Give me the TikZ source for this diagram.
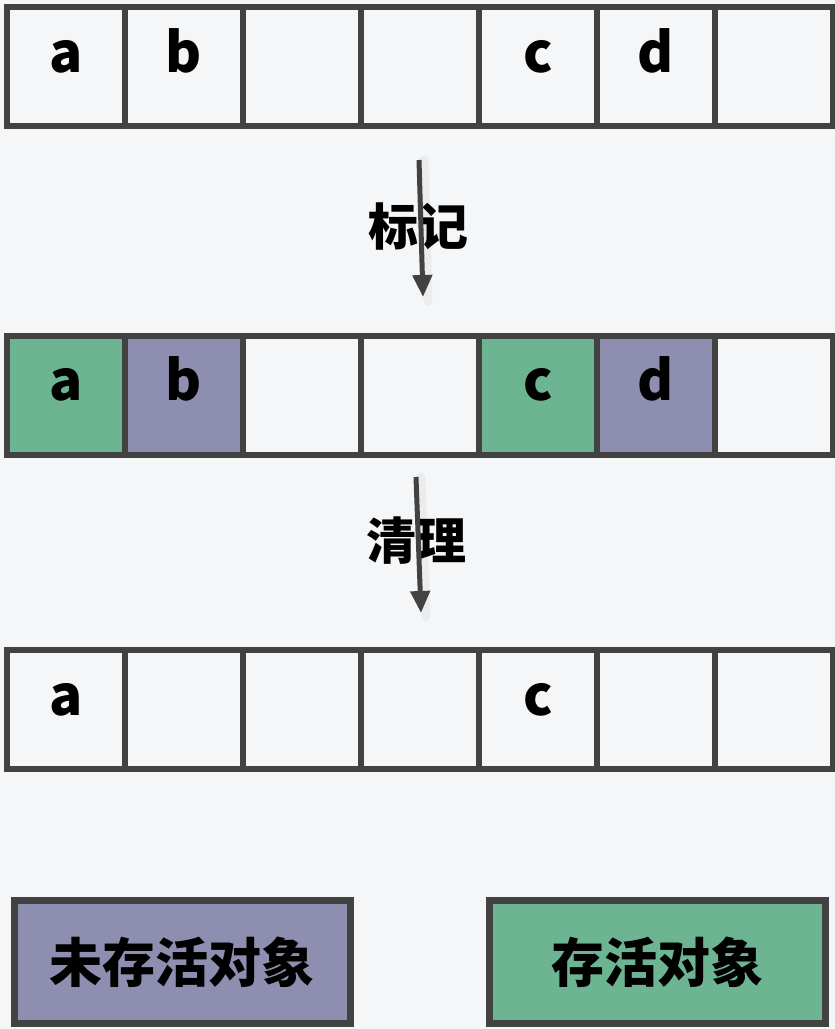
\documentclass[tikz,border=0pt]{standalone}
\usepackage{fontspec}
\setmainfont{Noto Sans CJK SC}
\usepackage{tikz}
\usetikzlibrary{calc,arrows.meta,positioning}

\definecolor{bgcol}{HTML}{F4F6F8}
\definecolor{linecol}{HTML}{424242}
\definecolor{live}{HTML}{6DB592}
\definecolor{dead}{HTML}{8E8FB0}

\begin{document}
\begin{tikzpicture}[x=1pt,y=-1pt,
  cell/.style={draw=linecol,line width=6pt,fill=bgcol,inner sep=0pt,
    minimum width=118pt,minimum height=119pt},
  letter/.style={anchor=base,inner sep=0pt,font=\fontsize{55}{60}\selectfont\bfseries},
  stage/.style={inner sep=0pt,font=\fontsize{50}{56}\selectfont\bfseries},
  keybox/.style={draw=linecol,line width=7pt,inner sep=0pt,
    minimum width=336pt,minimum height=123pt,
    font=\fontsize{53}{58}\selectfont\bfseries},
  flow/.style={draw=linecol,line width=5pt,
    -{Triangle[width=19pt,length=22pt]}},
  flowshadow/.style={draw=black,opacity=0.04,line width=9pt,line cap=round}]
  \useasboundingbox[fill=bgcol](0,0) rectangle (835,1029);
  % heap before marking
  \foreach \i in {1,...,7}
    \node[cell](h\i) at ({118*\i-52},66.5){};
  % heap after marking
  \foreach \i/\f in {1/live,2/dead,3/bgcol,4/bgcol,5/live,6/dead,7/bgcol}
    \node[cell,fill=\f](m\i) at ({118*\i-52},395){};
  % heap after sweeping
  \foreach \i in {1,...,7}
    \node[cell](s\i) at ({118*\i-52},709.5){};
  \foreach \n/\t in {h1/a,h2/b,h5/c,h6/d,m1/a,m2/b,m5/c,m6/d,s1/a,s5/c}
    \node[letter](l\n) at ([yshift=-68pt]\n.north){\t};
  % steps
  \node[stage](mark) at (418,226){标记};
  \node[stage](sweep) at (416,541){清理};
  \coordinate(mark1) at (419,160);
  \coordinate(mark2) at (423,297);
  \coordinate(sweep1) at (416,477);
  \coordinate(sweep2) at (421,613);
  \draw[flowshadow]([xshift=5pt]mark1)--([xshift=5pt,yshift=-4pt]mark2);
  \draw[flowshadow]([xshift=5pt]sweep1)--([xshift=5pt,yshift=-4pt]sweep2);
  \draw[flow](mark1)--(mark2);
  \draw[flow](sweep1)--(sweep2);
  % legend
  \node[keybox,fill=dead](kdead) at (182,962){未存活对象};
  \node[keybox,fill=live](klive) at (657,962){存活对象};
\end{tikzpicture}
\end{document}
